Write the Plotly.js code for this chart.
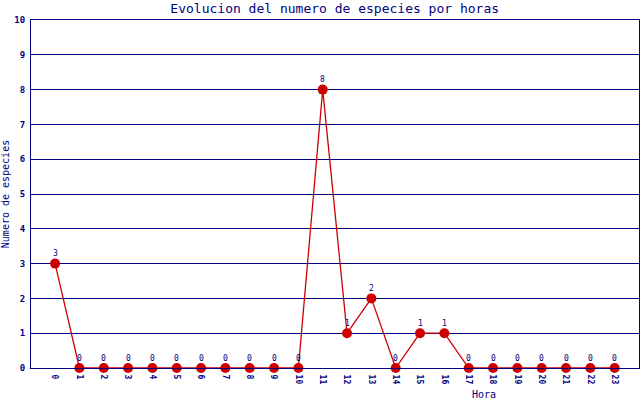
<!DOCTYPE html>
<html><head><meta charset="utf-8">
<script src="https://cdn.plot.ly/plotly-3.0.1.min.js"></script>
<style>body{margin:0;padding:0;background:#fff}#c{width:640px;height:400px}</style>
</head><body><div id="c"></div>
<script>
const horas = ["0","1","2","3","4","5","6","7","8","9","10","11","12","13","14","15","16","17","18","19","20","21","22","23"];
const especies = [3,0,0,0,0,0,0,0,0,0,0,8,1,2,0,1,1,0,0,0,0,0,0,0];
const navy = "#000080";
const font = "DejaVu Sans Mono, monospace";
const trace = {
  x: horas.map(Number), y: especies, type: "scatter", mode: "lines+markers",
  line: {color: "#cc0000", width: 1.3},
  marker: {color: "#cc0000", size: 10},
  cliponaxis: false, hoverinfo: "none"
};
const labels = horas.map((h, i) => ({
  x: Number(h), y: especies[i], xref: "x", yref: "y", text: String(especies[i]),
  showarrow: false, yanchor: "middle", xanchor: "center", yshift: 10,
  font: {family: font, size: 8, color: navy}
}));
const layout = {
  width: 640, height: 400,
  margin: {l: 31, r: 1, t: 20, b: 32},
  paper_bgcolor: "#fff", plot_bgcolor: "#fff",
  showlegend: false,
  title: {text: "Evolucion del numero de especies por horas", font: {family: font, size: 13, color: navy}, x: 0.523, xanchor: "center", y: 0.978, yanchor: "middle"},
  xaxis: {range: [-0.99, 24], tickvals: horas.map(Number), ticktext: horas, tickangle: 90,
    tickfont: {family: font, size: 8, color: navy, weight: "bold"}, showgrid: false, zeroline: false,
    showline: true, linecolor: navy, linewidth: 1, mirror: true, ticks: "outside", ticklen: 4, tickcolor: "rgba(0,0,0,0)"},
  yaxis: {range: [0, 10], dtick: 1, tickfont: {family: font, size: 9, color: navy, weight: "bold"},
    showgrid: true, gridcolor: navy, gridwidth: 1, zeroline: false,
    showline: true, linecolor: navy, linewidth: 1, mirror: true, ticks: "outside", ticklen: 3, tickcolor: "rgba(0,0,0,0)",
    title: {text: "Numero de especies", font: {family: font, size: 10, color: navy}, standoff: 4}},
  annotations: labels.concat([{text: "Hora", xref: "paper", yref: "paper", x: 0.745, y: -0.075, xanchor: "center", yanchor: "middle", showarrow: false, font: {family: font, size: 10, color: navy}}])
};
Plotly.newPlot("c", [trace], layout, {staticPlot: true});
</script></body></html>
